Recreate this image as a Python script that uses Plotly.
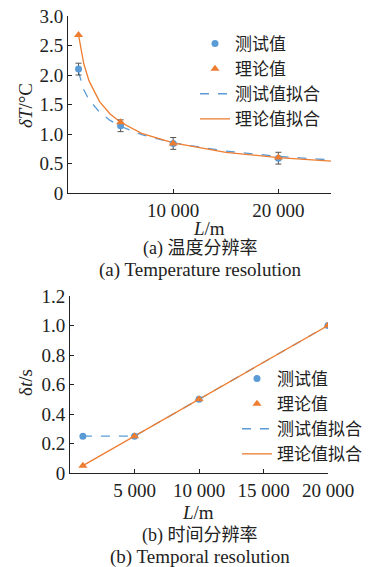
import plotly.graph_objects as go

W, H = 374, 567
BLUE = "#5b9bd5"
ORANGE = "#ed7d31"
FONT = "Liberation Serif, Noto Sans CJK SC, serif"

# ---- (a) temperature resolution ----
a_L = [1000, 5000, 10000, 20000]
a_meas = [2.10, 1.14, 0.84, 0.59]
a_err = [0.10, 0.10, 0.10, 0.10]
a_theo = [2.68, 1.20, 0.84, 0.60]
a_fitL = [1000, 1500, 2000, 3000, 4000, 5000, 7000, 10000, 15000, 20000, 25000]
a_fit_meas = [2.05, 1.75, 1.58, 1.37, 1.23, 1.13, 0.99, 0.85, 0.71, 0.62, 0.56]
a_fit_theo = [2.68, 2.19, 1.90, 1.55, 1.34, 1.20, 1.01, 0.85, 0.69, 0.60, 0.54]
a_yticks = [0, 0.5, 1.0, 1.5, 2.0, 2.5, 3.0]
a_ytext = ["0", "0.5", "1.0", "1.5", "2.0", "2.5", "3.0"]
a_xticks = [0, 10000, 20000, 25000]
a_xtext = ["", "10 000", "20 000", ""]

# ---- (b) temporal resolution ----
b_L = [1000, 5000, 10000, 20000]
b_meas = [0.25, 0.25, 0.50, 1.00]
b_theo = [0.05, 0.25, 0.50, 1.00]
b_fitL_meas = [1000, 5000, 10000, 20000]
b_fit_meas = [0.25, 0.25, 0.50, 1.00]
b_fitL_theo = [1000, 20000]
b_fit_theo = [0.05, 1.00]
b_yticks = [0, 0.2, 0.4, 0.6, 0.8, 1.0, 1.2]
b_ytext = ["0", "0.2", "0.4", "0.6", "0.8", "1.0", "1.2"]
b_xticks = [0, 5000, 10000, 15000, 20000]
b_xtext = ["", "5 000", "10 000", "15 000", "20 000"]

names = ["测试值", "理论值", "测试值拟合", "理论值拟合"]

fig = go.Figure()

def add_panel(xa, ya, leg, L, meas, theo, err, fLm, fm, fLt, ft):
    fig.add_trace(go.Scatter(x=fLm, y=fm, mode="lines", name=names[2],
                             line=dict(color=BLUE, width=1.3, dash="dash"),
                             xaxis=xa, yaxis=ya, legend=leg, legendrank=3))
    fig.add_trace(go.Scatter(x=fLt, y=ft, mode="lines", name=names[3],
                             line=dict(color=ORANGE, width=1.3),
                             xaxis=xa, yaxis=ya, legend=leg, legendrank=4))
    ey = dict(type="data", array=err, color="#555555", thickness=1, width=3) if err else None
    fig.add_trace(go.Scatter(x=L, y=meas, mode="markers", name=names[0],
                             marker=dict(color=BLUE, size=7, symbol="circle"),
                             error_y=ey, xaxis=xa, yaxis=ya, legend=leg, legendrank=1))
    fig.add_trace(go.Scatter(x=L, y=theo, mode="markers", name=names[1],
                             marker=dict(color=ORANGE, size=8, symbol="triangle-up"),
                             xaxis=xa, yaxis=ya, legend=leg, legendrank=2))

add_panel("x", "y", "legend", a_L, a_meas, a_theo, a_err, a_fitL, a_fit_meas, a_fitL, a_fit_theo)
add_panel("x2", "y2", "legend2", b_L, b_meas, b_theo, None, b_fitL_meas, b_fit_meas, b_fitL_theo, b_fit_theo)

ax_common = dict(showline=True, linecolor="#222", linewidth=1, ticks="inside", ticklen=4,
                 tickcolor="#222", showgrid=False, zeroline=False, automargin=False,
                 tickfont=dict(family=FONT, size=19, color="#222"))

def px(xp): return xp / W
def py(yp): return 1 - yp / H

fig.update_layout(
    width=W, height=H, margin=dict(l=0, r=0, t=0, b=0, autoexpand=False),
    paper_bgcolor="white", plot_bgcolor="white",
    font=dict(family=FONT, color="#222"),
    xaxis=dict(ax_common, domain=[px(68), px(331)], range=[0, 25000], anchor="y",
               tickvals=a_xticks, ticktext=a_xtext),
    yaxis=dict(ax_common, domain=[py(193), py(16)], range=[0, 3.0], anchor="x",
               tickvals=a_yticks, ticktext=a_ytext),
    xaxis2=dict(ax_common, domain=[px(70), px(328)], range=[0, 20000], anchor="y2",
                tickvals=b_xticks, ticktext=b_xtext),
    yaxis2=dict(ax_common, domain=[py(473), py(296)], range=[0, 1.2], anchor="x2",
                tickvals=b_yticks, ticktext=b_ytext),
    legend=dict(x=px(195), y=py(26), xanchor="left", yanchor="top", bgcolor="rgba(0,0,0,0)",
                font=dict(family=FONT, size=17), itemwidth=30, tracegroupgap=0),
    legend2=dict(x=px(237), y=py(361), xanchor="left", yanchor="top", bgcolor="rgba(0,0,0,0)",
                 font=dict(family=FONT, size=17), itemwidth=30, tracegroupgap=0),
)

ann = []
def txt(x, y, s, size=19, angle=0):
    ann.append(dict(x=px(x), y=py(y), xref="paper", yref="paper", text=s, showarrow=False,
                    xanchor="center", yanchor="middle", textangle=angle,
                    font=dict(family=FONT, size=size, color="#222")))

txt(25, 106, "<i>δT</i>/°C", angle=-90)
txt(209, 228, "<i>L</i>/m")
txt(200, 248, "(a) 温度分辨率", size=18)
txt(200, 270, "(a) Temperature resolution")
txt(25, 383, "δ<i>t</i>/s", angle=-90)
txt(198, 512, "<i>L</i>/m")
txt(200, 535, "(b) 时间分辨率", size=18)
txt(200, 557, "(b) Temporal resolution")
fig.update_layout(annotations=ann)

fig.write_html("out.html")
